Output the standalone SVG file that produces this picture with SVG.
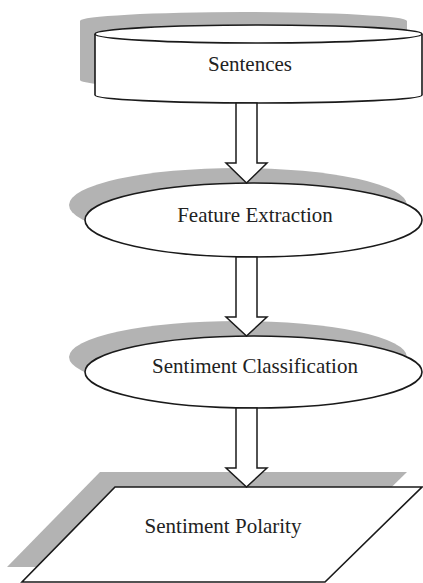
<svg xmlns="http://www.w3.org/2000/svg" width="423" height="583" viewBox="0 0 423 583">
<style>
.sh{fill:#b3b3b3;stroke:none}
.nd{fill:#fff;stroke:#1a1a1a;stroke-width:1.6}
.ar{fill:#fff;stroke:#1a1a1a;stroke-width:1.5;stroke-linejoin:miter}
text{font-family:"Liberation Serif","Times New Roman",serif;font-size:21px;fill:#222;text-anchor:middle}
</style>
<rect width="423" height="583" fill="#fff"/>
<g id="sentences">
<path class="sh" d="M80,21 A163.5,9 0 0 1 407,21 L407,80 A163.5,9 0 0 1 80,80 Z"/>
<path class="nd" d="M95,34 L95,95 A163.5,8 0 0 0 422,95 L422,34"/>
<ellipse class="nd" cx="258.5" cy="34" rx="163.5" ry="9"/>
<text x="250" y="71">Sentences</text>
</g>
<g id="feature-extraction">
<ellipse class="sh" cx="238" cy="205" rx="169" ry="37"/>
<ellipse class="nd" cx="253.5" cy="220" rx="168.5" ry="37"/>
<text x="255" y="222">Feature Extraction</text>
</g>
<g id="sentiment-classification">
<ellipse class="sh" cx="238" cy="357" rx="169" ry="36"/>
<ellipse class="nd" cx="253.5" cy="372" rx="168.5" ry="36"/>
<text x="255" y="373">Sentiment Classification</text>
</g>
<g id="sentiment-polarity">
<polygon class="sh" points="100,472 407,472 310,567 7,567"/>
<polygon class="nd" points="115,487 422,487 325,582 22,582"/>
<text x="223" y="533">Sentiment Polarity</text>
</g>
<g id="connectors">
<path class="ar" d="M236,103 L257,103 L257,163 L267,163 L246.5,183 L226,163 L236,163 Z"/>
<path class="ar" d="M236,257 L257,257 L257,317 L267,317 L246.5,336 L226,317 L236,317 Z"/>
<path class="ar" d="M236,408 L257,408 L257,468 L267,468 L246.5,487 L226,468 L236,468 Z"/>
</g>
</svg>
